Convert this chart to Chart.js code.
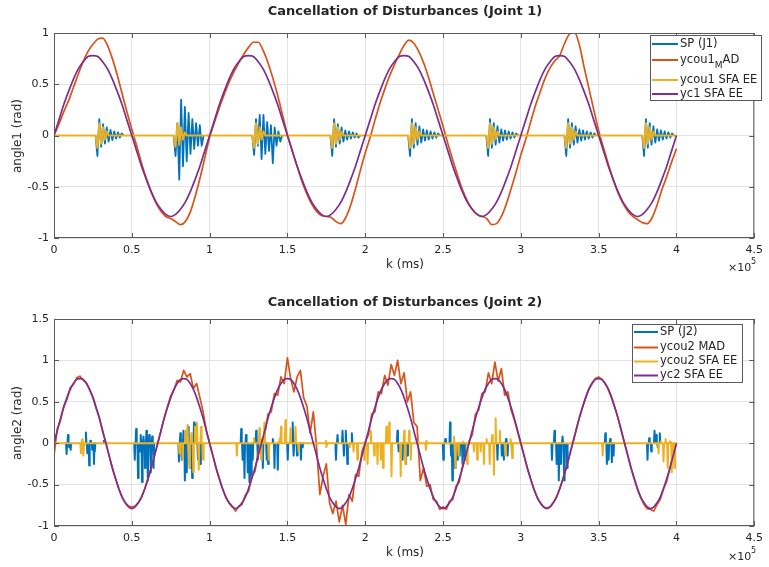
<!DOCTYPE html>
<html>
<head>
<meta charset="utf-8">
<script src="https://cdn.jsdelivr.net/npm/chart.js@4.4.1/dist/chart.umd.min.js"></script>
<style>
  html, body { margin: 0; padding: 0; background: #fff; }
  #wrap { position: relative; width: 769px; height: 567px; }
  canvas { position: absolute; left: 0; }
</style>
</head>
<body>
<div id="wrap">
  <canvas id="j1" width="769" height="283" style="top:0"></canvas>
  <canvas id="j2" width="769" height="284" style="top:283px"></canvas>
</div>
<script>
// ---- data (k in units of 1e5 ms, angles in rad) ----
const xTicks = [0, 0.5, 1, 1.5, 2, 2.5, 3, 3.5, 4, 4.5];

// joint 1: smooth signals sampled every 1/32 (x1e5 ms)
const dk1 = 1 / 32;
const yc1 = [
  0, 0.15, 0.30, 0.43, 0.55, 0.65, 0.72, 0.77, 0.78, 0.77, 0.72, 0.65, 0.55, 0.43, 0.30, 0.15,
  0, -0.15, -0.30, -0.43, -0.55, -0.65, -0.72, -0.77, -0.79, -0.77, -0.72, -0.65, -0.55, -0.43, -0.30, -0.15,
  0, 0.15, 0.30, 0.43, 0.55, 0.65, 0.72, 0.77, 0.78, 0.77, 0.72, 0.65, 0.55, 0.43, 0.30, 0.15,
  0, -0.15, -0.30, -0.43, -0.55, -0.65, -0.72, -0.77, -0.79, -0.77, -0.72, -0.65, -0.55, -0.43, -0.30, -0.15,
  0, 0.15, 0.30, 0.43, 0.55, 0.65, 0.72, 0.77, 0.78, 0.77, 0.72, 0.65, 0.55, 0.43, 0.30, 0.15,
  0, -0.15, -0.30, -0.43, -0.55, -0.65, -0.72, -0.77, -0.79, -0.77, -0.72, -0.65, -0.55, -0.43, -0.30, -0.15,
  0, 0.15, 0.30, 0.43, 0.55, 0.65, 0.72, 0.77, 0.78, 0.77, 0.72, 0.65, 0.55, 0.43, 0.30, 0.15,
  0, -0.15, -0.30, -0.43, -0.55, -0.65, -0.72, -0.77, -0.79, -0.77, -0.72, -0.65, -0.55, -0.43, -0.30, -0.15,
  0
];
const ycou1Mad = [
  0, 0.11, 0.23, 0.34, 0.47, 0.60, 0.72, 0.82, 0.89, 0.94, 0.95, 0.88, 0.75, 0.59, 0.41, 0.23,
  0.06, -0.10, -0.27, -0.42, -0.55, -0.66, -0.74, -0.79, -0.81, -0.84, -0.87, -0.84, -0.75, -0.60, -0.42, -0.22,
  -0.02, 0.13, 0.27, 0.40, 0.52, 0.62, 0.71, 0.79, 0.86, 0.91, 0.91, 0.83, 0.71, 0.56, 0.39, 0.20,
  0.01, -0.15, -0.30, -0.45, -0.57, -0.67, -0.74, -0.78, -0.79, -0.80, -0.84, -0.86, -0.80, -0.68, -0.52, -0.34,
  -0.17, -0.02, 0.15, 0.31, 0.45, 0.58, 0.69, 0.79, 0.88, 0.93, 0.90, 0.82, 0.71, 0.57, 0.41, 0.25,
  0.09, -0.08, -0.24, -0.39, -0.53, -0.64, -0.72, -0.77, -0.79, -0.81, -0.87, -0.86, -0.79, -0.67, -0.52, -0.36,
  -0.19, -0.04, 0.13, 0.29, 0.43, 0.56, 0.66, 0.73, 0.78, 0.90, 0.99, 1.01, 0.89, 0.67, 0.46, 0.25,
  0.05, -0.12, -0.28, -0.43, -0.56, -0.66, -0.74, -0.79, -0.82, -0.85, -0.86, -0.80, -0.68, -0.53, -0.40, -0.26,
  -0.13
];

// joint 1: disturbance bursts, samples every 0.012
const dkBurst = 0.012;
const burstStart1 = [0.267, 0.769, 1.274, 1.776, 2.276, 2.778, 3.280, 3.780];
const sp1Bursts = [
  [0, -0.20, 0.16, -0.11, 0.11, -0.08, 0.08, -0.06, 0.055, -0.045, 0.04, -0.03, 0.03, -0.02, 0.02, 0],
  [0, -0.20, 0.12, -0.43, 0.35, -0.30, 0.28, -0.25, 0.22, -0.18, 0.16, -0.13, 0.12, -0.10, 0.10, -0.10, 0],
  [0, -0.19, 0.16, -0.10, 0.20, -0.23, 0.20, -0.18, 0.13, -0.15, 0.10, -0.27, 0.08, -0.10, 0.04, -0.06, 0],
  [0, -0.20, 0.16, -0.11, 0.11, -0.08, 0.08, -0.06, 0.05, -0.04, 0.04, -0.03, 0.03, -0.02, 0.02, -0.02, 0],
  [0, -0.20, 0.16, -0.12, 0.12, -0.09, 0.09, -0.07, 0.06, -0.05, 0.05, -0.04, 0.04, -0.03, 0.03, -0.02, 0.02, 0],
  [0, -0.20, 0.16, -0.12, 0.12, -0.09, 0.09, -0.07, 0.06, -0.05, 0.05, -0.04, 0.04, -0.03, 0.03, -0.02, 0.02, 0],
  [0, -0.20, 0.16, -0.12, 0.12, -0.09, 0.09, -0.07, 0.06, -0.05, 0.05, -0.04, 0.04, -0.03, 0.03, -0.02, 0.02, 0],
  [0, -0.20, 0.16, -0.12, 0.12, -0.09, 0.09, -0.07, 0.06, -0.05, 0.05, -0.04, 0.04, -0.03, 0.03, -0.02, 0.02, 0]
];
const ee1Bursts = [
  [0, -0.12, 0.12, -0.08, 0.08, -0.04, 0.04, 0],
  [0, -0.11, 0.12, -0.09, 0.08, -0.04, 0.03, 0],
  [0, -0.12, 0.12, -0.08, 0.08, -0.04, 0.04, 0],
  [0, -0.12, 0.12, -0.08, 0.08, -0.04, 0.04, 0],
  [0, -0.12, 0.12, -0.08, 0.08, -0.04, 0.04, 0],
  [0, -0.12, 0.12, -0.08, 0.08, -0.04, 0.04, 0],
  [0, -0.12, 0.12, -0.08, 0.08, -0.04, 0.04, 0],
  [0, -0.12, 0.12, -0.08, 0.08, -0.04, 0.04, 0]
];

// joint 2: smooth / noisy signals sampled every 1/48
const dk2 = 1 / 48;
const yc2 = [
  0, 0.15, 0.30, 0.43, 0.55, 0.65, 0.72, 0.77, 0.78, 0.77, 0.72, 0.65, 0.55, 0.43, 0.30, 0.15,
  0, -0.15, -0.30, -0.43, -0.55, -0.65, -0.72, -0.77, -0.79, -0.77, -0.72, -0.65, -0.55, -0.43, -0.30, -0.15,
  0, 0.15, 0.30, 0.43, 0.55, 0.65, 0.72, 0.77, 0.78, 0.77, 0.72, 0.65, 0.55, 0.43, 0.30, 0.15,
  0, -0.15, -0.30, -0.43, -0.55, -0.65, -0.72, -0.77, -0.79, -0.77, -0.72, -0.65, -0.55, -0.43, -0.30, -0.15,
  0, 0.15, 0.30, 0.43, 0.55, 0.65, 0.72, 0.77, 0.78, 0.77, 0.72, 0.65, 0.55, 0.43, 0.30, 0.15,
  0, -0.15, -0.30, -0.43, -0.55, -0.65, -0.72, -0.77, -0.79, -0.77, -0.72, -0.65, -0.55, -0.43, -0.30, -0.15,
  0, 0.15, 0.30, 0.43, 0.55, 0.65, 0.72, 0.77, 0.78, 0.77, 0.72, 0.65, 0.55, 0.43, 0.30, 0.15,
  0, -0.15, -0.30, -0.43, -0.55, -0.65, -0.72, -0.77, -0.79, -0.77, -0.72, -0.65, -0.55, -0.43, -0.30, -0.15,
  0, 0.15, 0.30, 0.43, 0.55, 0.65, 0.72, 0.77, 0.78, 0.77, 0.72, 0.65, 0.55, 0.43, 0.30, 0.15,
  0, -0.15, -0.30, -0.43, -0.55, -0.65, -0.72, -0.77, -0.79, -0.77, -0.72, -0.65, -0.55, -0.43, -0.30, -0.15,
  0, 0.15, 0.30, 0.43, 0.55, 0.65, 0.72, 0.77, 0.78, 0.77, 0.72, 0.65, 0.55, 0.43, 0.30, 0.15,
  0, -0.15, -0.30, -0.43, -0.55, -0.65, -0.72, -0.77, -0.79, -0.77, -0.72, -0.65, -0.55, -0.43, -0.30, -0.15,
  0
];
const ycou2Mad = [
  -0.15, 0.17, 0.27, 0.45, 0.53, 0.67, 0.71, 0.79, 0.81, 0.76, 0.73, 0.64, 0.56, 0.42, 0.31, 0.14,
  0.01, -0.15, -0.30, -0.43, -0.55, -0.65, -0.72, -0.76, -0.77, -0.76, -0.72, -0.65, -0.55, -0.43, -0.30, -0.15,
  0.00, 0.15, 0.31, 0.44, 0.57, 0.64, 0.76, 0.74, 0.88, 0.80, 0.84, 0.66, 0.72, 0.55, 0.38, 0.15,
  0.00, -0.15, -0.30, -0.43, -0.55, -0.65, -0.72, -0.76, -0.82, -0.76, -0.74, -0.63, -0.58, -0.40, -0.34, -0.11,
  0.03, 0.10, 0.35, 0.38, 0.60, 0.58, 0.80, 0.72, 1.03, 0.78, 0.62, 0.80, 0.88, 0.55, 0.45, 0.12,
  0.38, -0.05, -0.62, -0.40, -0.25, -0.72, -0.85, -0.70, -0.95, -0.75, -0.98, -0.62, -0.70, -0.38, -0.40, -0.10,
  0.02, 0.10, 0.35, 0.38, 0.62, 0.60, 0.82, 0.70, 0.95, 0.82, 1.00, 0.72, 0.85, 0.50, 0.62, 0.25,
  0.20, -0.45, -0.30, -0.52, -0.50, -0.68, -0.70, -0.80, -0.77, -0.80, -0.70, -0.68, -0.52, -0.47, -0.28, -0.17,
  0.02, 0.10, 0.35, 0.40, 0.60, 0.62, 0.85, 0.72, 0.98, 0.75, 0.90, 0.58, 0.62, 0.40, 0.28, 0.14,
  0.00, -0.15, -0.30, -0.43, -0.55, -0.65, -0.72, -0.77, -0.78, -0.77, -0.72, -0.65, -0.55, -0.43, -0.30, -0.15,
  0.00, 0.15, 0.30, 0.43, 0.55, 0.66, 0.73, 0.78, 0.80, 0.77, 0.72, 0.65, 0.55, 0.43, 0.30, 0.15,
  0.00, -0.15, -0.30, -0.43, -0.56, -0.66, -0.74, -0.79, -0.80, -0.82, -0.74, -0.68, -0.55, -0.46, -0.30, -0.14,
  0.00
];

// joint 2: disturbance spikes (time, value)
const sp2T = [
  0.081, 0.090, 0.098, 0.107, 0.205, 0.214, 0.226, 0.234, 0.246, 0.257, 0.262, 0.320,
  0.519, 0.528, 0.540, 0.549, 0.557, 0.566, 0.575, 0.585, 0.594, 0.603, 0.612, 0.622, 0.631, 0.640,
  0.803, 0.812, 0.821, 0.832, 0.841, 0.850, 0.862, 0.875, 0.888, 0.900, 0.912, 0.925, 0.940,
  1.203, 1.212, 1.224, 1.234, 1.245, 1.256, 1.267, 1.277, 1.299, 1.310, 1.342, 1.367, 1.376, 1.406, 1.417, 1.438, 1.450, 1.502, 1.534, 1.540, 1.562, 1.587, 1.598,
  1.812, 1.822, 1.854, 1.863, 1.875, 1.885, 1.914,
  2.207, 2.215, 2.240, 2.262, 2.271,
  2.502, 2.515, 2.545, 2.552, 2.560, 2.577, 2.592, 2.607, 2.625, 2.640, 2.850, 2.878, 2.891, 2.905, 2.915,
  3.200, 3.216, 3.230, 3.244, 3.258, 3.268, 3.278, 3.297,
  3.543, 3.553, 3.564, 3.574, 3.585, 3.596,
  3.814, 3.825, 3.838, 3.859, 3.870, 3.880, 3.893
];
const sp2V = [
  -0.13, 0.10, -0.05, -0.08, 0.13, -0.12, -0.27, 0.03, -0.08, -0.25, -0.10, 0.03,
  -0.20, 0.17, -0.42, -0.10, 0.10, -0.47, 0.08, -0.30, 0.15, -0.45, 0.10, -0.35, 0.08, -0.30,
  -0.22, 0.12, -0.20, 0.15, -0.45, -0.35, 0.20, -0.30, -0.42, 0.25, 0.22, -0.20, -0.25,
  0.17, -0.20, -0.42, 0.10, -0.35, -0.47, -0.40, -0.20, 0.15, -0.20, -0.30, -0.20, -0.25, 0.05, -0.30, -0.32, 0.02, -0.20, 0.25, -0.15, -0.15, -0.20, -0.05,
  -0.20, 0.10, 0.15, -0.15, 0.15, -0.25, 0.12,
  0.15, -0.10, -0.20, -0.25, -0.15,
  -0.20, 0.05, 0.25, -0.15, -0.45, -0.30, -0.20, -0.15, -0.25, -0.20, -0.20, -0.15, -0.20, 0.05, -0.15,
  -0.20, 0.15, -0.25, -0.45, -0.25, 0.08, -0.45, -0.30,
  0.12, -0.25, -0.20, 0.05, -0.23, -0.15,
  -0.20, 0.06, -0.10, 0.15, 0.10, -0.05, 0.12
];
const ee2T = [
  0.173, 0.183, 0.190,
  0.806, 0.826, 0.845, 0.858, 0.870, 0.883, 0.895, 0.906, 0.918, 0.930, 0.945, 0.958,
  1.175, 1.285, 1.320, 1.331, 1.352, 1.380, 1.450, 1.459, 1.487, 1.520, 1.552, 1.572, 1.747, 1.752,
  1.900, 1.925, 1.950, 1.994, 2.015, 2.036, 2.058, 2.079, 2.100, 2.115, 2.136, 2.154, 2.169, 2.228, 2.250, 2.257, 2.282, 2.293, 2.340, 2.390, 2.395,
  2.570, 2.580, 2.600, 2.628, 2.655, 2.699, 2.720, 2.742, 2.763, 2.780, 2.800, 2.816, 2.827, 2.838, 2.865, 2.900, 2.934, 2.945,
  3.526, 3.885, 3.900, 3.917, 3.930, 3.944, 3.959, 3.970, 3.987
];
const ee2V = [
  -0.12, 0.05, -0.15,
  -0.12, -0.20, 0.15, 0.22, -0.30, 0.12, -0.35, 0.20, 0.25, -0.32, 0.20, -0.20,
  -0.15, 0.06, 0.18, -0.20, 0.25, -0.20, 0.05, 0.20, 0.28, 0.18, 0.20, -0.10, 0.03, -0.05,
  -0.05, -0.10, -0.20, -0.20, -0.25, 0.15, -0.15, -0.25, -0.20, -0.30, 0.20, 0.25, -0.40, -0.40, 0.15, -0.25, 0.15, -0.20, 0.02, -0.08, 0.03,
  0.08, -0.30, -0.15, 0.02, -0.25, -0.10, -0.20, -0.10, -0.25, 0.05, -0.25, 0.10, -0.38, 0.30, 0.15, -0.15, 0.05, -0.18,
  -0.15, -0.12, 0.02, -0.22, 0.05, -0.30, 0.02, -0.35, -0.30
];

// ---- styling ----
const C = { sp: '#0072BD', mad: '#D95319', ee: '#EDB120', yc: '#7E2F8E' };
const INK = '#262626';
const FONT = '"DejaVu Sans", sans-serif';
const K_END = 4;

// helpers to turn the arrays into {x,y} points
function sampled(vals, dk) {
  return vals.map((v, i) => ({ x: i * dk, y: v }));
}
// baseline=true keeps the zero line between bursts, otherwise the line breaks
function bursts(starts, shapes, dk, baseline) {
  const pts = baseline ? [{ x: 0, y: 0 }] : [];
  starts.forEach((s, b) => {
    shapes[b].forEach((v, i) => pts.push({ x: s + i * dk, y: v }));
    if (!baseline) pts.push({ x: s + shapes[b].length * dk, y: null });
  });
  if (baseline) pts.push({ x: K_END, y: 0 });
  return pts;
}
function spikes(ts, vs, baseline) {
  const pts = baseline ? [{ x: 0, y: 0 }] : [];
  const hw = 0.0035;
  ts.forEach((t, i) => {
    pts.push({ x: t - hw, y: 0 }, { x: t, y: vs[i] }, { x: t + hw, y: 0 });
    if (!baseline) pts.push({ x: t + hw, y: null });
  });
  if (baseline) pts.push({ x: K_END, y: 0 });
  return pts;
}
function series(label, data, color, order, width, smooth) {
  return {
    label, data, order,
    borderColor: color, backgroundColor: color,
    borderWidth: width, pointRadius: 0, fill: false, spanGaps: false,
    borderJoinStyle: 'round', borderCapStyle: 'butt',
    tension: 0, cubicInterpolationMode: smooth ? 'monotone' : 'default'
  };
}

// draws the matlab-ish box, inward ticks, titles and legend
function framePlugin(p) {
  return {
    id: 'frame' + p.id,
    afterDraw(chart) {
      const { ctx, chartArea: a, scales } = chart;
      ctx.save();
      // box
      ctx.strokeStyle = '#5a5a5a';
      ctx.lineWidth = 1;
      ctx.strokeRect(a.left + 0.5, a.top + 0.5, a.right - a.left - 1, a.bottom - a.top - 1);
      // inward ticks
      ctx.beginPath();
      xTicks.forEach(v => {
        const x = Math.round(scales.x.getPixelForValue(v)) + 0.5;
        ctx.moveTo(x, a.bottom); ctx.lineTo(x, a.bottom - 5);
        ctx.moveTo(x, a.top); ctx.lineTo(x, a.top + 5);
      });
      p.yTicks.forEach(v => {
        const y = Math.round(scales.y.getPixelForValue(v)) + 0.5;
        ctx.moveTo(a.left, y); ctx.lineTo(a.left + 5, y);
        ctx.moveTo(a.right, y); ctx.lineTo(a.right - 5, y);
      });
      ctx.stroke();

      // texts
      ctx.fillStyle = INK;
      ctx.textBaseline = 'middle';
      ctx.textAlign = 'center';
      ctx.font = 'bold 13px ' + FONT;
      ctx.fillText(p.title, 405, p.titleY);
      ctx.font = '12px ' + FONT;
      ctx.fillText('k (ms)', 405, p.xTitleY);
      ctx.textAlign = 'left';
      ctx.font = '11px ' + FONT;
      ctx.fillText('\u00d710', 728, p.expY);
      ctx.font = '8px ' + FONT;
      ctx.fillText('5', 751, p.expY - 6);
      ctx.font = '12px ' + FONT;
      ctx.save();
      ctx.translate(18, p.yTitleY);
      ctx.rotate(-Math.PI / 2);
      ctx.textAlign = 'center';
      ctx.fillText(p.yTitle, 0, 0);
      ctx.restore();

      // legend
      const L = p.legend;
      ctx.fillStyle = '#fff';
      ctx.fillRect(L.x, L.y, L.w, L.h);
      ctx.strokeStyle = '#5a5a5a';
      ctx.lineWidth = 1;
      ctx.strokeRect(L.x + 0.5, L.y + 0.5, L.w - 1, L.h - 1);
      L.rows.forEach(r => {
        ctx.strokeStyle = r.c;
        ctx.lineWidth = 2;
        ctx.beginPath();
        ctx.moveTo(L.lx1, r.y); ctx.lineTo(L.lx2, r.y);
        ctx.stroke();
        let x = L.tx;
        ctx.fillStyle = INK;
        ctx.textAlign = 'left';
        r.parts.forEach(part => {
          ctx.font = (part.sub ? '9px ' : '11.5px ') + FONT;
          ctx.fillText(part.t, x, part.sub ? r.y + 6 : r.y);
          x += ctx.measureText(part.t).width;
        });
      });
      ctx.restore();
    }
  };
}

function makePanel(canvasId, p, datasets) {
  const tickFont = { family: FONT, size: 11 };
  return new Chart(document.getElementById(canvasId), {
    type: 'line',
    data: { datasets },
    options: {
      responsive: false, animation: false, devicePixelRatio: 1,
      layout: { padding: { top: p.top, right: 12, left: 0, bottom: 0 } },
      plugins: { legend: { display: false }, tooltip: { enabled: false } },
      scales: {
        x: {
          type: 'linear', min: 0, max: 4.5,
          afterFit(s) { s.height = p.xAxisH; },
          ticks: { stepSize: 0.5, padding: 6, color: INK, font: tickFont, maxRotation: 0, autoSkip: false,
                   callback: v => String(v) },
          grid: { color: '#e3e3e3', drawTicks: false },
          border: { display: false }
        },
        y: {
          type: 'linear', min: p.yMin, max: p.yMax,
          afterFit(s) { s.width = 54; },
          ticks: { stepSize: 0.5, padding: 5, color: INK, font: tickFont, callback: v => String(v) },
          grid: { color: '#e3e3e3', drawTicks: false },
          border: { display: false }
        }
      }
    },
    plugins: [framePlugin(p)]
  });
}

const panel1 = {
  id: 1, top: 33, xAxisH: 45, yMin: -1, yMax: 1, yTicks: [-1, -0.5, 0, 0.5, 1],
  title: 'Cancellation of Disturbances (Joint 1)', titleY: 12,
  yTitle: 'angle1 (rad)', yTitleY: 136, xTitleY: 265, expY: 268,
  legend: {
    x: 650, y: 35, w: 112, h: 66, lx1: 652, lx2: 678, tx: 680,
    rows: [
      { y: 44, c: C.sp, parts: [{ t: 'SP (J1)' }] },
      { y: 60, c: C.mad, parts: [{ t: 'ycou1' }, { t: 'M', sub: true }, { t: 'AD' }] },
      { y: 80, c: C.ee, parts: [{ t: 'ycou1 SFA EE' }] },
      { y: 94, c: C.yc, parts: [{ t: 'yc1 SFA EE' }] }
    ]
  }
};
const panel2 = {
  id: 2, top: 36, xAxisH: 41, yMin: -1, yMax: 1.5, yTicks: [-1, -0.5, 0, 0.5, 1, 1.5],
  title: 'Cancellation of Disturbances (Joint 2)', titleY: 20,
  yTitle: 'angle2 (rad)', yTitleY: 140, xTitleY: 270, expY: 274,
  legend: {
    x: 632, y: 41, w: 111, h: 59, lx1: 634, lx2: 658, tx: 660,
    rows: [
      { y: 49, c: C.sp, parts: [{ t: 'SP (J2)' }] },
      { y: 64.5, c: C.mad, parts: [{ t: 'ycou2 MAD' }] },
      { y: 78.5, c: C.ee, parts: [{ t: 'ycou2 SFA EE' }] },
      { y: 92.5, c: C.yc, parts: [{ t: 'yc2 SFA EE' }] }
    ]
  }
};

// order: higher = drawn underneath
makePanel('j1', panel1, [
  series('SP (J1)', bursts(burstStart1, sp1Bursts, dkBurst, false), C.sp, 4, 1.8, false),
  series('ycou1_MAD', sampled(ycou1Mad, dk1), C.mad, 3, 1.7, true),
  series('ycou1 SFA EE', bursts(burstStart1, ee1Bursts, dkBurst, true), C.ee, 2, 2, false),
  series('yc1 SFA EE', sampled(yc1, dk1), C.yc, 1, 1.7, true)
]);
makePanel('j2', panel2, [
  series('SP (J2)', spikes(sp2T, sp2V, false), C.sp, 4, 2, false),
  series('ycou2 MAD', sampled(ycou2Mad, dk2), C.mad, 3, 1.7, false),
  series('ycou2 SFA EE', spikes(ee2T, ee2V, true), C.ee, 2, 2, false),
  series('yc2 SFA EE', sampled(yc2, dk2), C.yc, 1, 1.7, true)
]);
</script>
</body>
</html>
